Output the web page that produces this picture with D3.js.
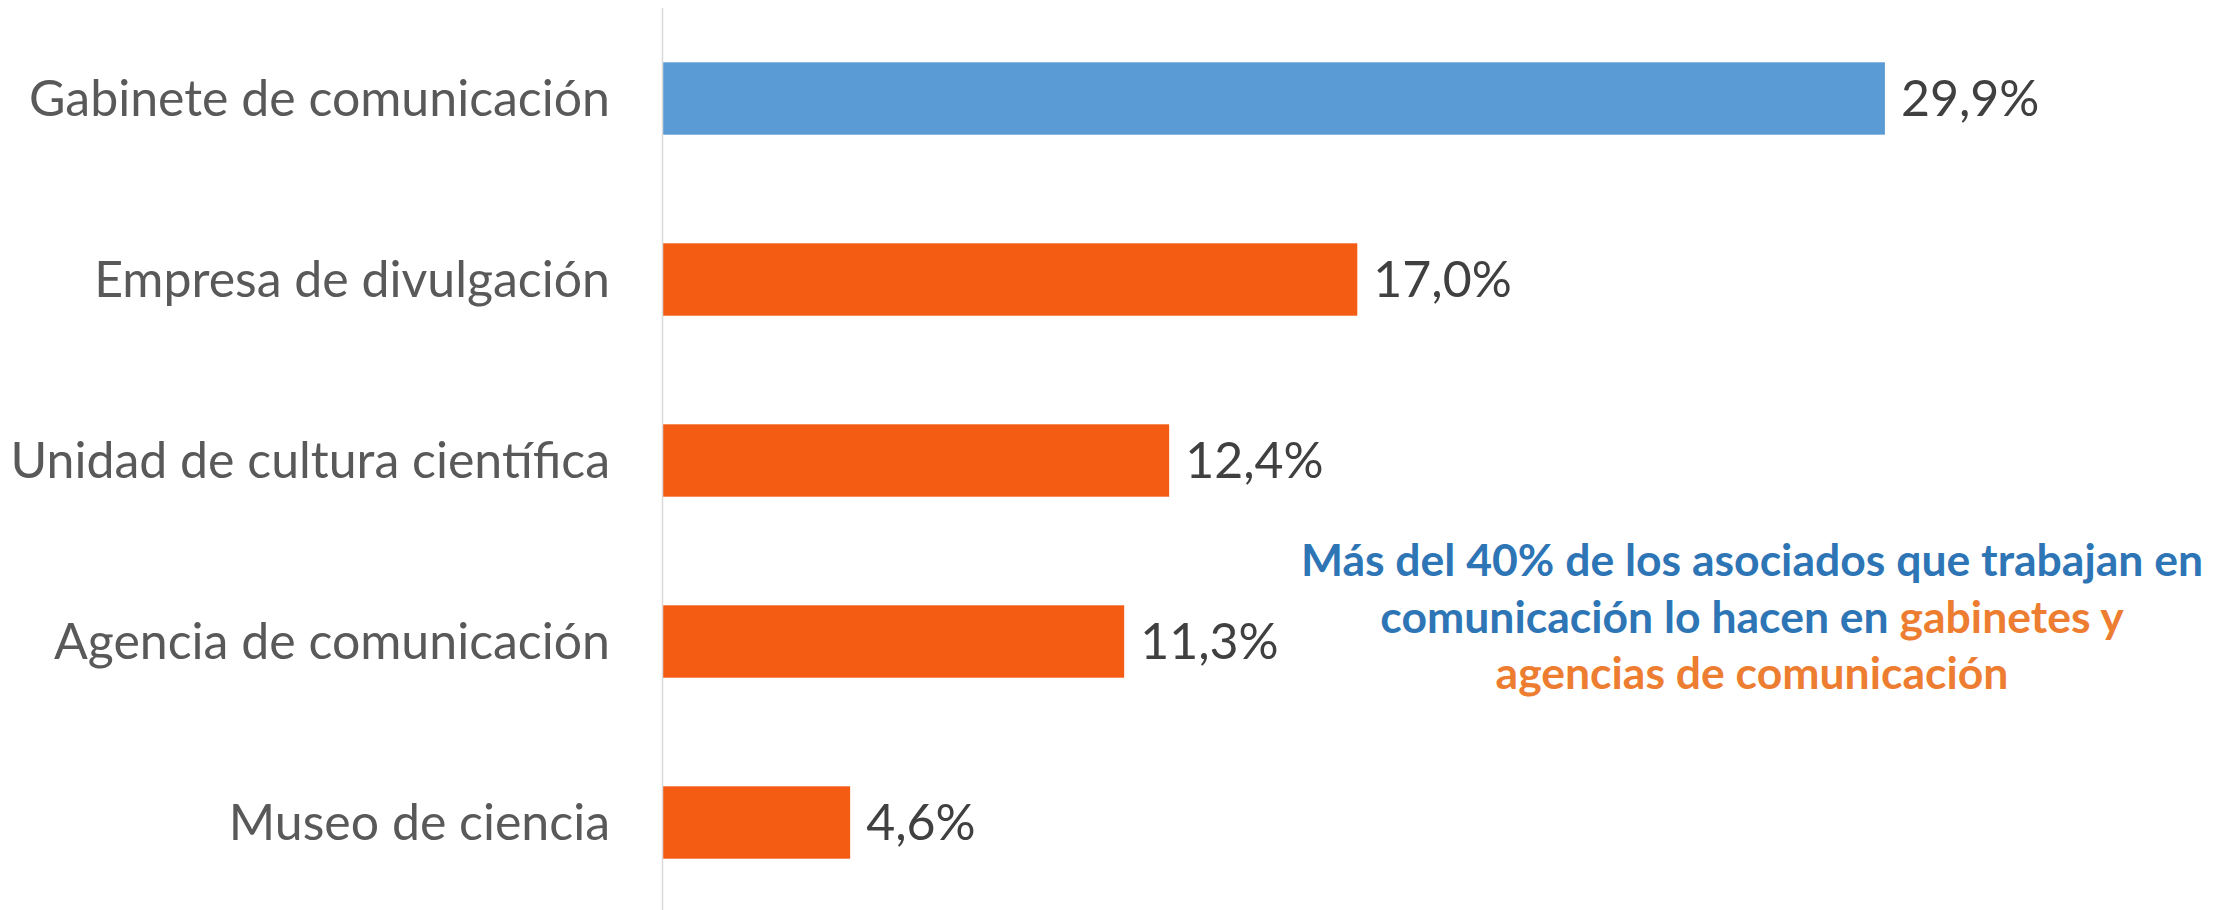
<!DOCTYPE html>
<html>
<head>
<meta charset="utf-8">
<script src="https://cdn.jsdelivr.net/npm/d3@7"></script>
<style>
  html, body { margin: 0; padding: 0; background: #fff; }
  svg { display: block; }
</style>
</head>
<body>
<div id="chart"></div>
<script>
const categories = [
  "Gabinete de comunicación",
  "Empresa de divulgación",
  "Unidad de cultura científica",
  "Agencia de comunicación",
  "Museo de ciencia"
];
const values = [29.9, 17.0, 12.4, 11.3, 4.6];
const highlighted = ["Gabinete de comunicación"];

// annotation lines, each a list of [text, colour key]
const noteLines = [
  [["Más del 40% de los asociados que trabajan en", "blue"]],
  [["comunicación lo hacen en ", "blue"], ["gabinetes y", "orange"]],
  [["agencias de comunicación", "orange"]]
];

const width = 2227, height = 910;
const axisX = 662;

const noteColor = {blue: "#2E75B6", orange: "#ED7D31"};
const fmt = v => d3.format(".1f")(v).replace(".", ",") + "%";

const svg = d3.select("#chart").append("svg")
  .attr("width", width)
  .attr("height", height);

const x = d3.scaleLinear()
  .domain([0, 35])
  .range([axisX, axisX + 35 * 40.9]);

const y = d3.scaleBand()
  .domain(categories)
  .range([8, 913])
  .paddingInner(0.6)
  .paddingOuter(0.3);

svg.append("g")
  .selectAll("rect")
  .data(categories)
  .join("rect")
  .attr("x", x(0))
  .attr("y", d => y(d))
  .attr("width", (d, i) => x(values[i]) - x(0))
  .attr("height", y.bandwidth())
  .attr("fill", d => highlighted.includes(d) ? "#5B9BD5" : "#F45B13");

// category axis line
svg.append("line")
  .attr("x1", axisX + 0.5)
  .attr("x2", axisX + 0.5)
  .attr("y1", 8)
  .attr("y2", height)
  .attr("stroke", "#D9D9D9")
  .attr("stroke-width", 1.5);

svg.append("g")
  .attr("font-family", "Lato, 'Open Sans', sans-serif")
  .attr("font-size", 50)
  .attr("fill", "#595959")
  .attr("text-anchor", "end")
  .selectAll("text")
  .data(categories)
  .join("text")
  .attr("x", axisX - 52)
  .attr("y", d => y(d) + y.bandwidth() / 2)
  .attr("dy", "0.35em")
  .text(d => d);

svg.append("g")
  .attr("font-family", "Lato, 'Open Sans', sans-serif")
  .attr("font-size", 50)
  .attr("fill", "#404040")
  .selectAll("text")
  .data(categories)
  .join("text")
  .attr("x", (d, i) => x(values[i]) + 16)
  .attr("y", d => y(d) + y.bandwidth() / 2)
  .attr("dy", "0.35em")
  .text((d, i) => fmt(values[i]));

// annotation
const note = svg.append("text")
  .attr("font-family", "Lato, 'Open Sans', sans-serif")
  .attr("font-weight", "bold")
  .attr("font-size", 44.5)
  .attr("text-anchor", "middle");

noteLines.forEach((line, li) => {
  line.forEach(([t, c], si) => {
    const span = note.append("tspan").text(t).attr("fill", noteColor[c]);
    if (si === 0) span.attr("x", 1752).attr("y", 576 + li * 56.5);
  });
});
</script>
</body>
</html>
